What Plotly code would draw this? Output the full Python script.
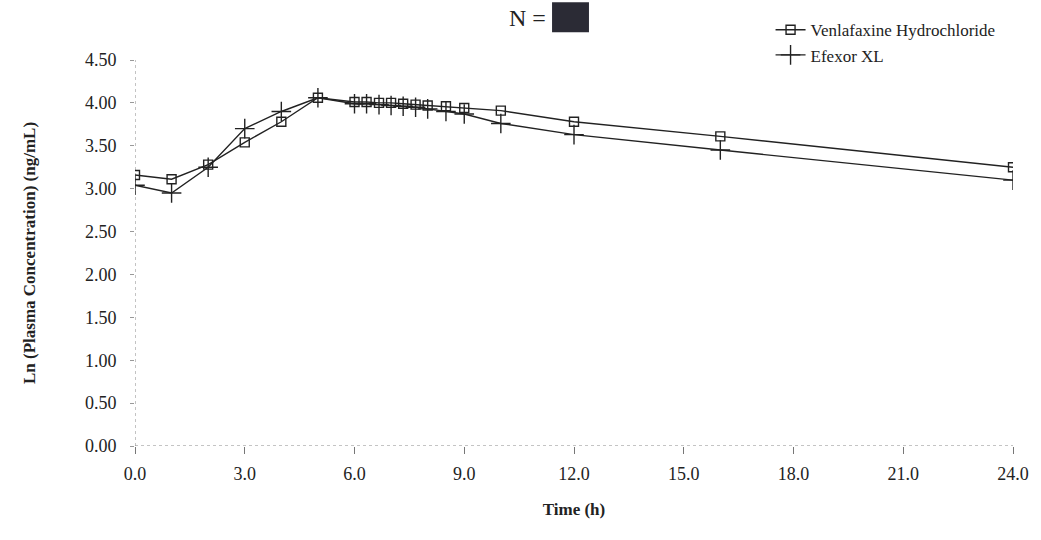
import plotly.graph_objects as go

time_h = [0, 1, 2, 3, 4, 5, 6, 6.33, 6.67, 7, 7.33, 7.67, 8, 8.5, 9, 10, 12, 16, 24]
venlafaxine = [3.16, 3.11, 3.28, 3.54, 3.78, 4.06, 4.01, 4.01, 4.00, 4.00, 3.99, 3.98, 3.97,
               3.96, 3.94, 3.91, 3.78, 3.61, 3.25]
efexor = [3.04, 2.95, 3.25, 3.70, 3.90, 4.06, 3.99, 3.99, 3.98, 3.97, 3.96, 3.95, 3.93,
          3.90, 3.87, 3.76, 3.63, 3.45, 3.10]
x_ticks = [0, 3, 6, 9, 12, 15, 18, 21, 24]
y_ticks = [0, 0.5, 1, 1.5, 2, 2.5, 3, 3.5, 4, 4.5]

FONT = "Liberation Serif, Times New Roman, serif"
INK = "#222222"

fig = go.Figure()
fig.add_trace(go.Scatter(
    x=time_h, y=venlafaxine, name="Venlafaxine Hydrochloride", mode="lines+markers",
    line=dict(color=INK, width=1.4),
    marker=dict(symbol="square-open", size=9, color=INK, line=dict(width=1.4)),
))
fig.add_trace(go.Scatter(
    x=time_h, y=efexor, name="Efexor XL", mode="lines+markers",
    line=dict(color=INK, width=1.4),
    marker=dict(symbol="cross-thin", size=14, color=INK, line=dict(width=1.4, color=INK)),
))

L, R, T, B = 135, 26, 58, 94
W, H = 1041, 540
pw, ph = W - L - R, H - T - B

def px(xp):
    return (xp - L) / pw

def py(yp):
    return (H - B - yp) / ph

fig.update_layout(
    width=W, height=H,
    margin=dict(l=L, r=R, t=T, b=B),
    paper_bgcolor="white", plot_bgcolor="white",
    font=dict(family=FONT, color=INK, size=18),
    showlegend=True,
    legend=dict(x=px(772), y=py(10), xanchor="left", yanchor="top",
                font=dict(family=FONT, size=17, color=INK),
                bgcolor="rgba(0,0,0,0)", tracegroupgap=0, itemwidth=30),
    xaxis=dict(range=[0, 24], tickvals=x_ticks,
               ticktext=[f"{v:.1f}" for v in x_ticks],
               showgrid=False, zeroline=False, showline=False,
               ticks="outside", ticklen=7, tickcolor="#777", tickwidth=1,
               ticklabelstandoff=4,
               title=dict(text="<b>Time (h)</b>", font=dict(size=17), standoff=20)),
    yaxis=dict(range=[0, 4.5], tickvals=y_ticks,
               ticktext=[f"{v:.2f}" for v in y_ticks],
               showgrid=False, zeroline=False, showline=False,
               ticks="outside", ticklen=4, tickcolor="#999", tickwidth=1,
               ticklabelstandoff=10,
               title=dict(text="<b>Ln (Plasma Concentration) (ng/mL)</b>",
                          font=dict(size=17), standoff=44)),
)

fig.add_shape(type="line", xref="x", yref="y", x0=0, x1=24, y0=0, y1=0,
              line=dict(color="#888", width=1, dash="dot"), layer="below")
fig.add_shape(type="line", xref="x", yref="y", x0=0, x1=0, y0=0, y1=4.5,
              line=dict(color="#888", width=1, dash="dot"), layer="below")

fig.add_annotation(text="N =", xref="paper", yref="paper", x=px(549), y=py(16),
                   xanchor="right", yanchor="middle", showarrow=False,
                   font=dict(family=FONT, size=24, color=INK))
fig.add_shape(type="rect", xref="paper", yref="paper",
              x0=px(553), x1=px(590), y0=py(30), y1=py(0),
              fillcolor="#2b2b35", line=dict(width=0))

fig.write_html("out.html")
